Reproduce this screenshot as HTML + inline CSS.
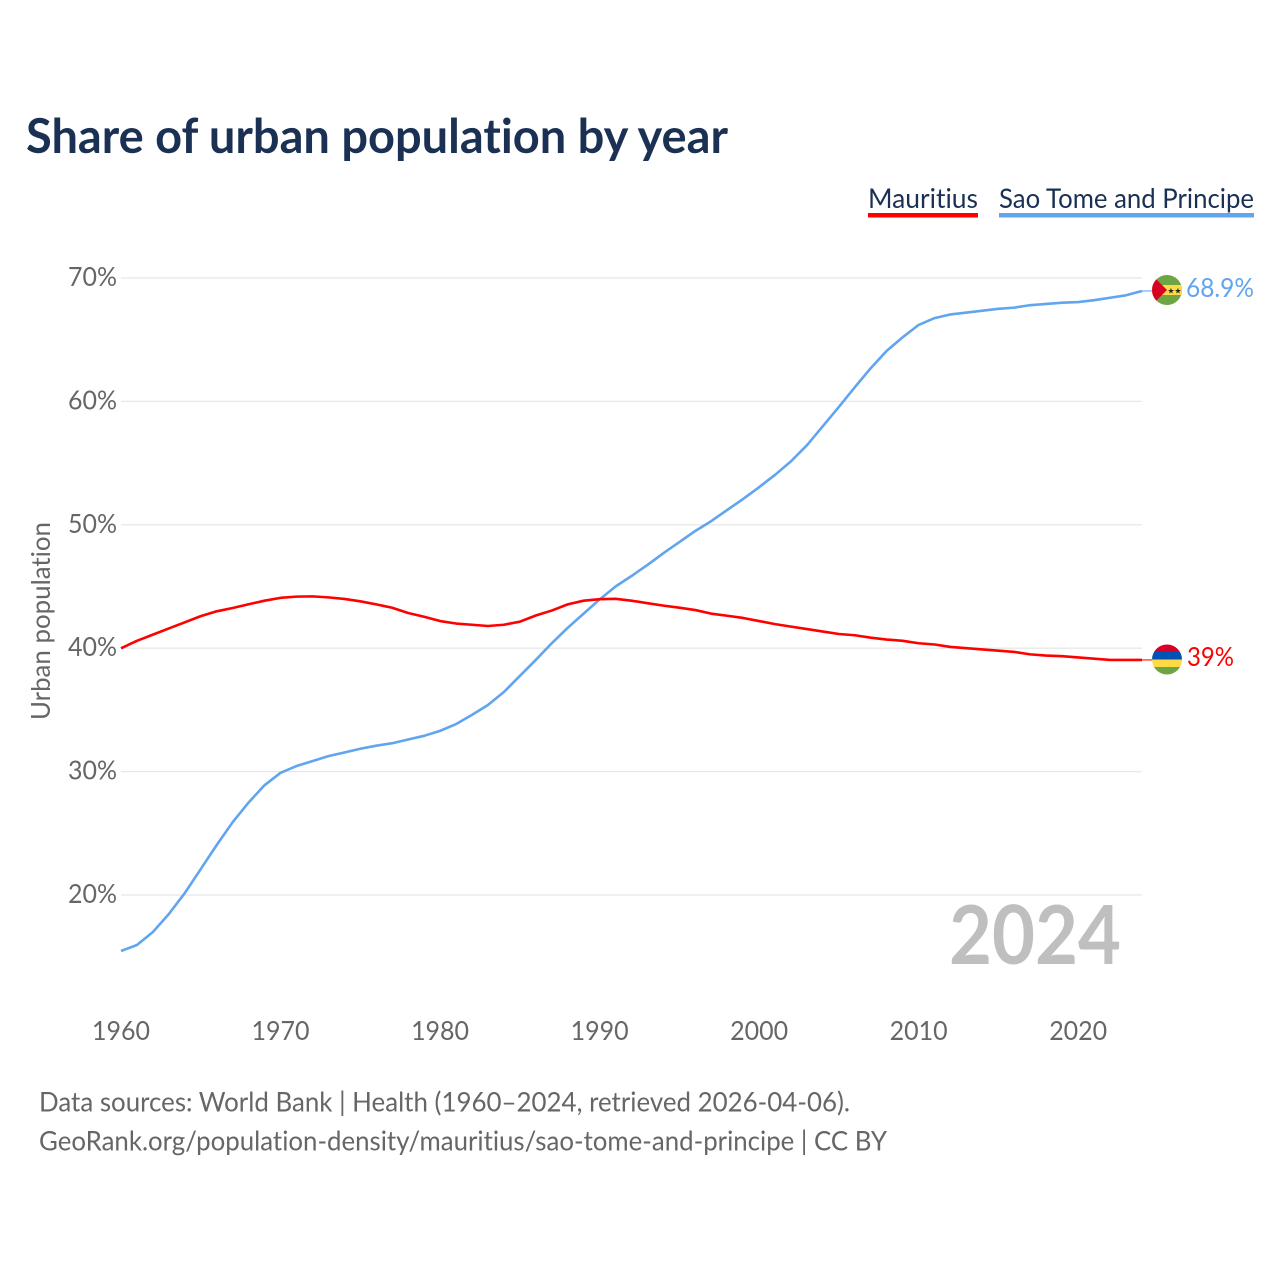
<!DOCTYPE html>
<html lang="en">
<head>
<meta charset="utf-8">
<title>Share of urban population by year</title>
<style>
html,body{margin:0;padding:0;background:#fff;width:1280px;height:1280px;overflow:hidden}
svg{display:block}
text{font-family:"Lato","Carlito","Liberation Sans",sans-serif;font-variant-ligatures:none;font-feature-settings:"liga" 0,"clig" 0}
</style>
</head>
<body>
<svg id="chart" width="1280" height="1280" viewBox="0 0 1280 1280" xmlns="http://www.w3.org/2000/svg">
  <defs>
    <clipPath id="stp-clip"><circle cx="1167" cy="290" r="15"/></clipPath>
    <clipPath id="mus-clip"><circle cx="1167" cy="659.5" r="15"/></clipPath>
  </defs>
  <rect width="1280" height="1280" fill="#fff"/>
  <text x="26" y="153" font-size="47.5" font-weight="700" fill="#1a3153" textLength="702" lengthAdjust="spacingAndGlyphs">Share of urban population by year</text>

  <g>
    <g>
      <text x="868" y="208" font-size="27.5" fill="#1a3153" textLength="110" lengthAdjust="spacingAndGlyphs">Mauritius</text>
      <rect x="868" y="213" width="110" height="4.5" fill="#ff0000"/>
    </g>
    <g>
      <text x="999" y="208" font-size="27.5" fill="#1a3153" textLength="255" lengthAdjust="spacingAndGlyphs">Sao Tome and Principe</text>
      <rect x="999" y="213" width="255" height="4.5" fill="#60a5ee"/>
    </g>
  </g>

  <g id="grid"></g>
  <g id="yticks"></g>
  <g id="xticks"></g>

  <text transform="translate(50,621) rotate(-90)" text-anchor="middle" font-size="26.5" fill="#666666" textLength="198" lengthAdjust="spacingAndGlyphs">Urban population</text>

  <text x="949" y="964" font-size="81" font-weight="700" fill="#bfbfbf" textLength="172" lengthAdjust="spacingAndGlyphs">2024</text>

  <g id="series"></g>

  <g clip-path="url(#stp-clip)">
    <rect x="1150" y="273" width="34" height="34" fill="#6da544"/>
    <rect x="1150" y="285" width="34" height="10" fill="#ffda44"/>
    <polygon points="1150,273 1152,275 1167,290 1152,305 1150,307" fill="#d80027"/>
    <text x="1171" y="293.5" font-size="8" text-anchor="middle" fill="#222" style='font-family:"DejaVu Sans",sans-serif'>★</text>
    <text x="1178" y="293.5" font-size="8" text-anchor="middle" fill="#222" style='font-family:"DejaVu Sans",sans-serif'>★</text>
  </g>
  <g clip-path="url(#mus-clip)">
    <rect x="1150" y="644" width="34" height="8" fill="#d80027"/>
    <rect x="1150" y="652" width="34" height="8" fill="#0052b4"/>
    <rect x="1150" y="659.5" width="34" height="8" fill="#ffda44"/>
    <rect x="1150" y="667" width="34" height="8" fill="#6da544"/>
  </g>

  <text x="1186" y="297" font-size="26.5" fill="#60a5ee" textLength="68" lengthAdjust="spacingAndGlyphs">68.9%</text>
  <text x="1187" y="666" font-size="26.5" fill="#ff0000" textLength="47" lengthAdjust="spacingAndGlyphs">39%</text>

  <text x="39" y="1111.5" font-size="27.5" fill="#666666" textLength="811" lengthAdjust="spacingAndGlyphs">Data sources: World Bank | Health (1960–2024, retrieved 2026-04-06).</text>
  <text x="39" y="1150.5" font-size="27.5" fill="#666666" textLength="848" lengthAdjust="spacingAndGlyphs">GeoRank.org/population-density/mauritius/sao-tome-and-principe | CC BY</text>
</svg>
<script>
const startYear = 1960;
const yTickValues = [20, 30, 40, 50, 60, 70];
const xTickValues = [1960, 1970, 1980, 1990, 2000, 2010, 2020];
const mauritiusValues = [39.99,40.6,41.1,41.6,42.1,42.6,42.99,43.26,43.56,43.85,44.08,44.18,44.2,44.12,43.99,43.8,43.55,43.28,42.85,42.55,42.2,42,41.9,41.8,41.9,42.15,42.65,43.05,43.55,43.85,43.97,44,43.85,43.65,43.45,43.28,43.09,42.8,42.63,42.45,42.2,41.95,41.75,41.55,41.35,41.15,41.05,40.85,40.7,40.6,40.4,40.3,40.1,40,39.9,39.8,39.7,39.5,39.4,39.35,39.25,39.15,39.05,39.05,39.05];
const saoTomeValues = [15.46,15.95,17,18.46,20.16,22.1,24.05,25.9,27.5,28.9,29.9,30.45,30.85,31.25,31.55,31.85,32.1,32.3,32.6,32.9,33.3,33.85,34.6,35.4,36.45,37.75,39.05,40.4,41.65,42.8,43.95,45,45.85,46.75,47.7,48.6,49.5,50.3,51.2,52.1,53.05,54.05,55.15,56.45,58,59.55,61.15,62.7,64.1,65.2,66.2,66.75,67.05,67.2,67.35,67.5,67.6,67.8,67.9,68,68.05,68.2,68.4,68.6,68.95];

const NS = 'http://www.w3.org/2000/svg';
function xScale(year) { return 121 + (year - 1960) * (1142 - 121) / 64; }
function yScale(v) { return 895 - (v - 20) * 12.34; }
function svgEl(tag, attrs, parent) {
  const el = document.createElementNS(NS, tag);
  for (const k in attrs) el.setAttribute(k, attrs[k]);
  parent.appendChild(el);
  return el;
}
const grid = document.getElementById('grid');
const yticks = document.getElementById('yticks');
const xticks = document.getElementById('xticks');
const series = document.getElementById('series');

yTickValues.forEach(function (v) {
  const line = svgEl('line', {x1: 121, x2: 1142, y1: yScale(v), y2: yScale(v), stroke: '#e8e8e8', 'stroke-width': 1.3}, grid);
  
  
  const t = svgEl('text', {x: 68, y: yScale(v) + 8, 'font-size': 26, fill: '#666666', textLength: 49, lengthAdjust: 'spacingAndGlyphs'}, yticks);
  
  
  t.textContent = v + '%';
});
xTickValues.forEach(function (y) {
  const t = svgEl('text', {x: xScale(y) - 29, y: 1040, 'font-size': 26, fill: '#666666', textLength: 58, lengthAdjust: 'spacingAndGlyphs'}, xticks);
  
  
  t.textContent = y;
});
function linePoints(values) {
  return values.map(function (v, i) { return xScale(startYear + i).toFixed(2) + ',' + yScale(v).toFixed(2); }).join(' ');
}
function lastPoint(values) {
  return [xScale(startYear + values.length - 1), yScale(values[values.length - 1])];
}
const blueLine = svgEl('polyline', {points: linePoints(saoTomeValues), fill: 'none', stroke: '#60a5ee', 'stroke-width': 2.6, 'stroke-linejoin': 'round'}, series);


const redLine = svgEl('polyline', {points: linePoints(mauritiusValues), fill: 'none', stroke: '#ff0000', 'stroke-width': 2.6, 'stroke-linejoin': 'round'}, series);


const blueEnd = lastPoint(saoTomeValues);
const blueLead = svgEl('line', {x1: blueEnd[0], x2: blueEnd[0] + 10, y1: blueEnd[1], y2: blueEnd[1], stroke: '#60a5ee', 'stroke-width': 1.5, opacity: 0.7}, series);


const redEnd = lastPoint(mauritiusValues);
const redLead = svgEl('line', {x1: redEnd[0], x2: redEnd[0] + 10, y1: redEnd[1], y2: redEnd[1], stroke: '#ff0000', 'stroke-width': 1.5, opacity: 0.7}, series);


</script>
</body>
</html>
